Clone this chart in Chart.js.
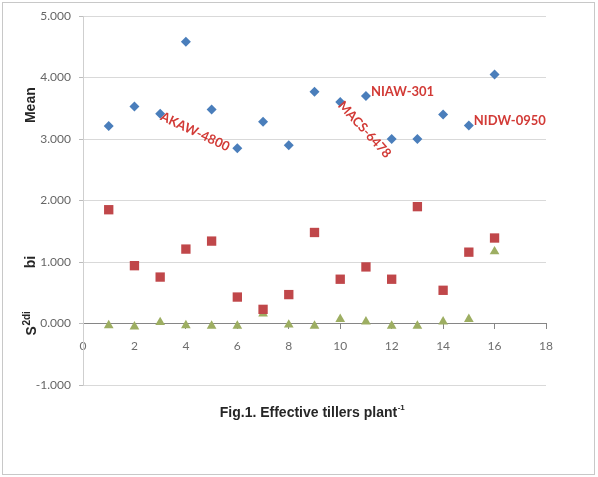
<!DOCTYPE html>
<html>
<head>
<meta charset="utf-8">
<script src="https://cdn.jsdelivr.net/npm/chart.js@4"></script>
<style>
  html, body { margin: 0; padding: 0; background: #fff; }
  canvas { display: block; }
</style>
</head>
<body>
<canvas id="stabChart" width="598" height="477"></canvas>
<script>
// genotypes 1..16
const genotypes = [1, 2, 3, 4, 5, 6, 7, 8, 9, 10, 11, 12, 13, 14, 15, 16];
const meanValues = [3.21, 3.53, 3.41, 4.58, 3.48, 2.85, 3.28, 2.90, 3.77, 3.60, 3.70, 3.00, 3.00, 3.40, 3.22, 4.05];
const biValues = [1.85, 0.94, 0.755, 1.21, 1.34, 0.43, 0.23, 0.47, 1.48, 0.72, 0.92, 0.72, 1.90, 0.54, 1.16, 1.39];
const s2diValues = [-0.03, -0.05, 0.02, -0.03, -0.04, -0.04, 0.16, -0.02, -0.04, 0.07, 0.03, -0.04, -0.04, 0.03, 0.07, 1.17];
const yTicks = [-1, 0, 1, 2, 3, 4, 5];
const xTicks = [0, 2, 4, 6, 8, 10, 12, 14, 16, 18];

// named genotypes (labelled on the Mean points)
const labelNames = ['AKAW-4800', 'MACS-6478', 'NIAW-301', 'NIDW-0950'];
const labelIndex = [3, 10, 11, 15];

function toPoints(vals) {
    return genotypes.map((g, i) => ({ x: g, y: vals[i] }));
}

// text drawn on top: frame, axis titles, genotype names
const extraText = {
    id: 'extraText',
    beforeDraw(chart) {
        const c = chart.ctx;
        c.save();
        c.fillStyle = '#fff';
        c.fillRect(0, 0, chart.width, chart.height);
        c.strokeStyle = '#c8c8c8';
        c.lineWidth = 1;
        c.strokeRect(2.5, 2.5, 592, 472);
        c.restore();
    },
    afterDraw(chart) {
        const c = chart.ctx;
        const xs = chart.scales.x;
        const ys = chart.scales.y;
        c.save();

        // y titles
        c.fillStyle = '#262626';
        c.textAlign = 'center';
        c.textBaseline = 'middle';
        const yTitle = (txt, val, sup) => {
            c.save();
            c.translate(31, ys.getPixelForValue(val));
            c.rotate(-Math.PI / 2);
            c.font = 'bold 14px "Liberation Sans", Arial, sans-serif';
            if (!sup) {
                c.fillText(txt, 0, 0);
            } else {
                const w1 = c.measureText(txt).width;
                c.font = 'bold 10px "Liberation Sans", Arial, sans-serif';
                const w2 = c.measureText(sup).width;
                const start = -(w1 + w2) / 2;
                c.textAlign = 'left';
                c.font = 'bold 14px "Liberation Sans", Arial, sans-serif';
                c.fillText(txt, start, 1);
                c.font = 'bold 10px "Liberation Sans", Arial, sans-serif';
                c.fillText(sup, start + w1 + 0.5, -4);
            }
            c.restore();
        };
        yTitle('Mean', 3.55);
        yTitle('bi', 1.0);
        yTitle('S', 0.0, '2di');

        // x title
        c.font = 'bold 14px "Liberation Sans", Arial, sans-serif';
        const main = 'Fig.1. Effective tillers plant';
        const wMain = c.measureText(main).width;
        c.font = 'bold 8px "Liberation Sans", Arial, sans-serif';
        const wSup = c.measureText('-1').width;
        const x0 = 312 - (wMain + wSup) / 2;
        c.textAlign = 'left';
        c.font = 'bold 14px "Liberation Sans", Arial, sans-serif';
        c.fillText(main, x0, 413);
        c.font = 'bold 8px "Liberation Sans", Arial, sans-serif';
        c.fillText('-1', x0 + wMain + 0.5, 408);

        // genotype names next to their Mean points
        c.fillStyle = '#d23a36';
        c.font = 'bold 13px Lato, "Open Sans", sans-serif';
        c.textBaseline = 'middle';
        const angles = [0.44, 0.83, 0, 0];
        const offs = [[1, 2], [0, 1], [5, -4], [5, -5]];
        labelNames.forEach((name, k) => {
            const i = labelIndex[k] - 1;
            const px = xs.getPixelForValue(genotypes[i]);
            const py = ys.getPixelForValue(meanValues[i]);
            c.save();
            c.translate(px + offs[k][0], py + offs[k][1]);
            c.rotate(angles[k]);
            c.fillText(name, 0, 0);
            c.restore();
        });
        c.restore();
    }
};

new Chart(document.getElementById('stabChart').getContext('2d'), {
    type: 'scatter',
    data: {
        datasets: [{
            label: 'Mean',
            data: toPoints(meanValues),
            pointStyle: 'rectRot',
            pointRadius: 5,
            backgroundColor: '#4a7ebb',
            borderColor: '#4a7ebb',
            borderWidth: 0
        }, {
            label: 'bi',
            data: toPoints(biValues),
            pointStyle: 'rect',
            pointRadius: 6.6,
            backgroundColor: '#c0474a',
            borderColor: '#c0474a',
            borderWidth: 0
        }, {
            label: 'S2di',
            data: toPoints(s2diValues),
            pointStyle: 'triangle',
            pointRadius: 5.6,
            backgroundColor: '#9dae62',
            borderColor: '#9dae62',
            borderWidth: 0
        }]
    },
    options: {
        responsive: false,
        animation: false,
        devicePixelRatio: 1,
        layout: { padding: { left: 0, top: 16, right: 52, bottom: 92 } },
        plugins: {
            legend: { display: false },
            tooltip: { enabled: false }
        },
        scales: {
            x: {
                type: 'linear',
                position: { y: 0 },
                min: 0,
                max: 18,
                afterBuildTicks: s => { s.ticks = xTicks.map(v => ({ value: v })); },
                grid: { drawOnChartArea: false, drawTicks: true, tickLength: 5, color: '#868686' },
                border: { color: '#868686', width: 1 },
                ticks: {
                    color: '#6e6e6e',
                    padding: 10,
                    maxRotation: 0,
                    font: { family: 'Lato, "Open Sans", sans-serif', size: 12 }
                }
            },
            y: {
                min: -1,
                max: 5,
                afterBuildTicks: s => { s.ticks = yTicks.map(v => ({ value: v })); },
                afterFit: s => { s.width = 83; },
                grid: { color: '#d9d9d9', drawTicks: true, tickLength: 4, tickColor: '#bdbdbd' },
                border: { color: '#cfcfcf', width: 1 },
                ticks: {
                    color: '#666',
                    padding: 8,
                    font: { family: 'Lato, "Open Sans", sans-serif', size: 12 },
                    callback: v => v.toFixed(3)
                }
            }
        }
    },
    plugins: [extraText]
});
</script>
</body>
</html>
